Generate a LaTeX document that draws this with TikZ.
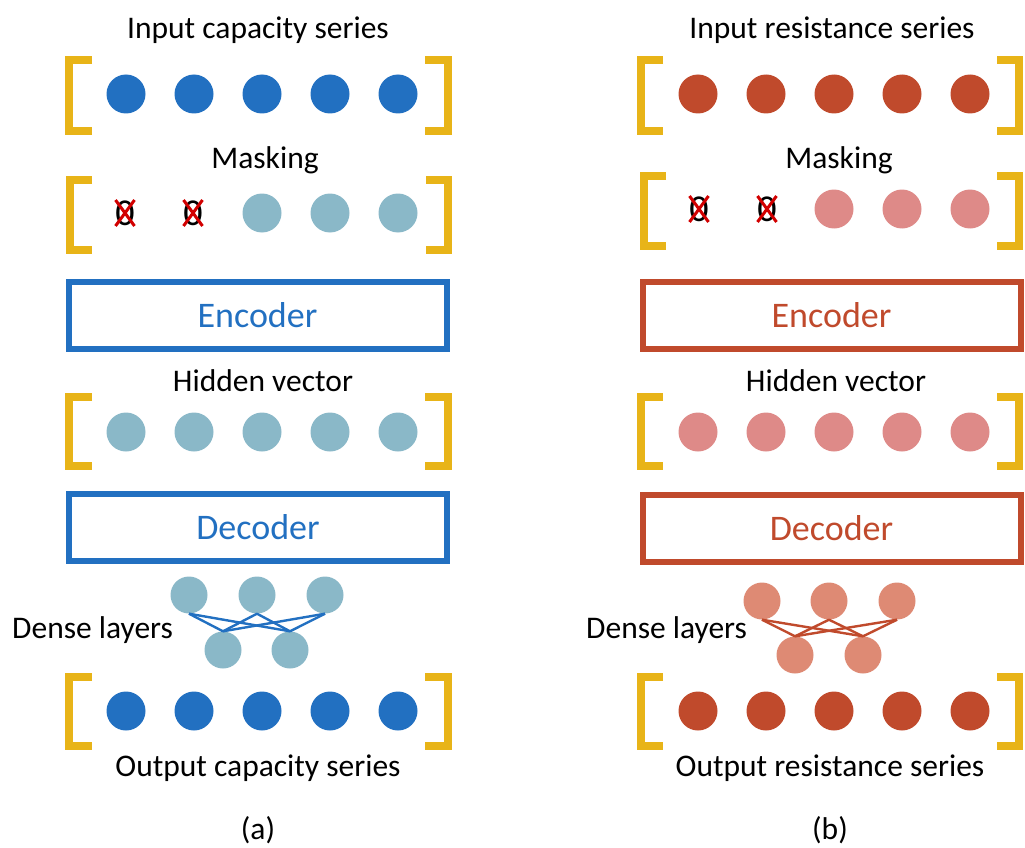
\documentclass[tikz,border=0pt]{standalone}
\usepackage{fontspec}
\setmainfont{Carlito}
\definecolor{blueD}{RGB}{34,112,193}
\definecolor{blueL}{RGB}{138,184,200}
\definecolor{redD}{RGB}{192,74,44}
\definecolor{pinkL}{RGB}{222,138,136}
\definecolor{salmon}{RGB}{222,138,116}
\definecolor{brk}{RGB}{232,180,24}
\definecolor{xred}{RGB}{210,0,0}
\tikzset{
  dot/.style={circle,inner sep=0pt,minimum size=39pt,fill=#1},
  brack/.style={draw=brk,line width=8pt,line join=miter},
  lbl/.style={font=\fontsize{31.5}{36}\selectfont,inner sep=0pt},
  codebox/.style={draw=#1,line width=6pt,minimum width=378pt,minimum height=67pt,text=#1,font=\fontsize{36}{40}\selectfont,inner sep=0pt},
  zero/.style={font=\fontsize{38}{40}\selectfont,inner sep=0pt,text=black},
  xmark/.style={draw=xred,line width=3pt},
  dline/.style={draw=#1,line width=2.4pt}
}
\begin{document}
\begin{tikzpicture}[x=1pt,y=-1pt]
\useasboundingbox (0,0) rectangle (1025,848);
% ---------------- left panel ----------------
\node[lbl] (tinA) at (258,30) {Input capacity series};
\draw[brack] (92,60) -- (69,60) -- (69,131) -- (92,131);
\draw[brack] (425,60) -- (448,60) -- (448,131) -- (425,131);
\foreach \i/\x in {1/126,2/194,3/262,4/330,5/398}
  \node[dot=blueD] (inA\i) at (\x,94) {};
\node[lbl] (tmA) at (265,160) {Masking};
\draw[brack] (92,180) -- (70,180) -- (70,250) -- (92,250);
\draw[brack] (426,180) -- (448,180) -- (448,250) -- (426,250);
\node[zero] (mA1) at (125,213) {0};
\node[zero] (mA2) at (193,213) {0};
\foreach \m in {mA1,mA2}{
  \draw[xmark] (\m) ++(-9.5,-13) -- ++(19,26);
  \draw[xmark] (\m) ++(9.5,-13) -- ++(-19,26);
}
\foreach \i/\x in {3/262,4/330,5/398}
  \node[dot=blueL] (mA\i) at (\x,213) {};
\node[codebox=blueD] (encA) at (257.5,315.5) {Encoder};
\node[lbl] (thA) at (263,381) {Hidden vector};
\draw[brack] (92,397) -- (69,397) -- (69,466) -- (92,466);
\draw[brack] (425,397) -- (448,397) -- (448,466) -- (425,466);
\foreach \i/\x in {1/126,2/194,3/262,4/330,5/398}
  \node[dot=blueL] (hA\i) at (\x,432) {};
\node[codebox=blueD] (decA) at (258,527.5) {Decoder};
\node[dot=blueL,minimum size=37pt] (dtA1) at (189,595) {};
\node[dot=blueL,minimum size=37pt] (dtA2) at (257,595) {};
\node[dot=blueL,minimum size=37pt] (dtA3) at (325,595) {};
\node[dot=blueL,minimum size=37pt] (dbA1) at (223,650) {};
\node[dot=blueL,minimum size=37pt] (dbA2) at (290,650) {};
\foreach \t in {1,2,3}
  \foreach \b in {1,2}
    \draw[dline=blueD] (dtA\t.south) -- (dbA\b.north);
\node[lbl,anchor=west] (tdA) at (12,630) {Dense layers};
\draw[brack] (92,677) -- (69,677) -- (69,746) -- (92,746);
\draw[brack] (425,677) -- (448,677) -- (448,746) -- (425,746);
\foreach \i/\x in {1/126,2/194,3/262,4/330,5/398}
  \node[dot=blueD] (oA\i) at (\x,711) {};
\node[lbl] (toA) at (258,768) {Output capacity series};
\node[lbl] (capA) at (258,830) {(a)};
% ---------------- right panel ----------------
\node[lbl] (tinB) at (832,30) {Input resistance series};
\draw[brack] (663,60) -- (641,60) -- (641,131) -- (663,131);
\draw[brack] (997,60) -- (1019,60) -- (1019,131) -- (997,131);
\foreach \i/\x in {1/698,2/766,3/834,4/902,5/970}
  \node[dot=redD] (inB\i) at (\x,94) {};
\node[lbl] (tmB) at (839,160) {Masking};
\draw[brack] (666,176) -- (644,176) -- (644,246) -- (666,246);
\draw[brack] (997,176) -- (1019,176) -- (1019,246) -- (997,246);
\node[zero] (mB1) at (699,209) {0};
\node[zero] (mB2) at (767,209) {0};
\foreach \m in {mB1,mB2}{
  \draw[xmark] (\m) ++(-9.5,-13) -- ++(19,26);
  \draw[xmark] (\m) ++(9.5,-13) -- ++(-19,26);
}
\foreach \i/\x in {3/834,4/902,5/970}
  \node[dot=pinkL] (mB\i) at (\x,209) {};
\node[codebox=redD] (encB) at (831.5,315.5) {Encoder};
\node[lbl] (thB) at (836,381) {Hidden vector};
\draw[brack] (663,397) -- (641,397) -- (641,466) -- (663,466);
\draw[brack] (997,397) -- (1019,397) -- (1019,466) -- (997,466);
\foreach \i/\x in {1/698,2/766,3/834,4/902,5/970}
  \node[dot=pinkL] (hB\i) at (\x,432) {};
\node[codebox=redD] (decB) at (831.5,528.5) {Decoder};
\node[dot=salmon,minimum size=37pt] (dtB1) at (762,601) {};
\node[dot=salmon,minimum size=37pt] (dtB2) at (829,601) {};
\node[dot=salmon,minimum size=37pt] (dtB3) at (897,601) {};
\node[dot=salmon,minimum size=37pt] (dbB1) at (795,655) {};
\node[dot=salmon,minimum size=37pt] (dbB2) at (863,655) {};
\foreach \t in {1,2,3}
  \foreach \b in {1,2}
    \draw[dline=redD] (dtB\t.south) -- (dbB\b.north);
\node[lbl,anchor=west] (tdB) at (586,630) {Dense layers};
\draw[brack] (663,677) -- (641,677) -- (641,746) -- (663,746);
\draw[brack] (997,677) -- (1019,677) -- (1019,746) -- (997,746);
\foreach \i/\x in {1/698,2/766,3/834,4/902,5/970}
  \node[dot=redD] (oB\i) at (\x,711) {};
\node[lbl] (toB) at (830,768) {Output resistance series};
\node[lbl] (capB) at (830,830) {(b)};
\end{tikzpicture}
\end{document}
